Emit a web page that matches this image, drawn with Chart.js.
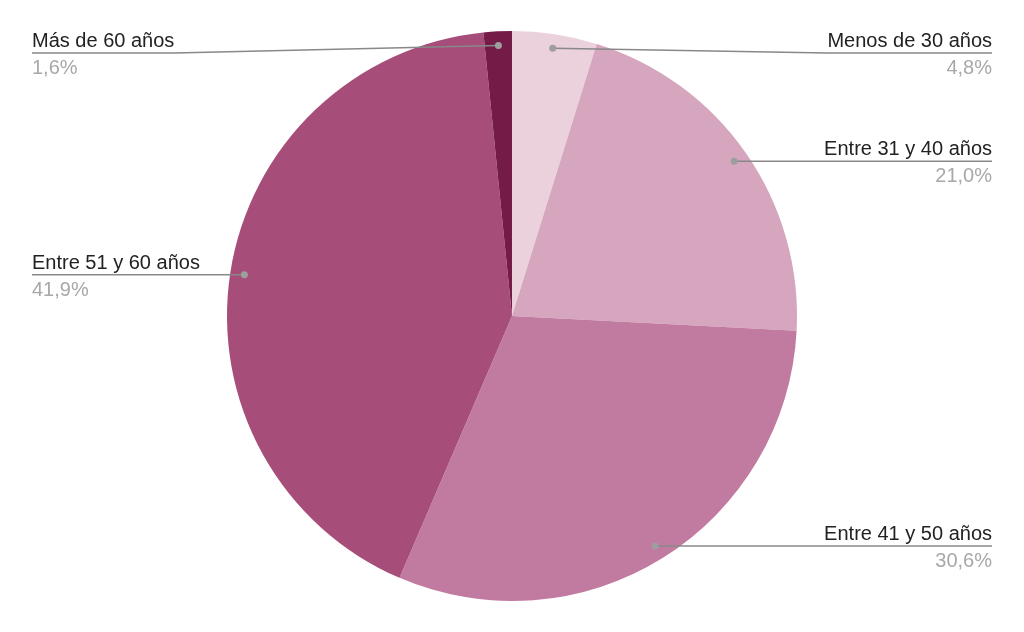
<!DOCTYPE html>
<html>
<head>
<meta charset="utf-8">
<script src="https://cdn.jsdelivr.net/npm/chart.js@4/dist/chart.umd.min.js"></script>
<style>
  html, body { margin: 0; padding: 0; background: #fff; }
  #wrap { width: 1024px; height: 632px; position: relative; }
</style>
</head>
<body>
<div id="wrap"><canvas id="myPie"></canvas></div>
<script>
// data
const labels = ['Menos de 30 años', 'Entre 31 y 40 años', 'Entre 41 y 50 años', 'Entre 51 y 60 años', 'Más de 60 años'];
const values = [4.8, 21.0, 30.6, 41.9, 1.6];
const percentLabels = ['4,8%', '21,0%', '30,6%', '41,9%', '1,6%'];
const colors = ['#ead1dc', '#d5a6bd', '#c27ba0', '#a64d79', '#741b47'];

// leader lines + labels
const calloutPlugin = {
  id: 'callouts',
  afterDraw(chart) {
    const ctx = chart.ctx;
    const meta = chart.getDatasetMeta(0);
    ctx.save();
    ctx.font = '20px "Liberation Sans", Arial, sans-serif';
    meta.data.forEach((arc, i) => {
      const p = arc.getProps(['x', 'y', 'startAngle', 'endAngle', 'outerRadius'], true);
      const mid = (p.startAngle + p.endAngle) / 2;
      const r = p.outerRadius * 0.95;
      const dx = p.x + Math.cos(mid) * r;
      const dy = p.y + Math.sin(mid) * r;
      const right = Math.cos(mid) >= 0;
      const lineY = Math.max(dy, 53);
      const tw = ctx.measureText(labels[i]).width;
      const edge = right ? 992 : 32;
      const bend = right ? edge - tw : edge + tw;

      ctx.strokeStyle = '#888888';
      ctx.lineWidth = 1.5;
      ctx.beginPath();
      ctx.moveTo(dx, dy);
      ctx.lineTo(bend, lineY);
      ctx.lineTo(edge, lineY);
      ctx.stroke();

      ctx.fillStyle = '#9e9e9e';
      ctx.beginPath();
      ctx.arc(dx, dy, 3.5, 0, Math.PI * 2);
      ctx.fill();

      ctx.textAlign = right ? 'right' : 'left';
      ctx.textBaseline = 'alphabetic';
      ctx.fillStyle = '#222222';
      ctx.fillText(labels[i], edge, lineY - 6);
      ctx.fillStyle = '#a8a8a8';
      ctx.fillText(percentLabels[i], edge, lineY + 21);
    });
    ctx.restore();
  }
};

const config = {
  type: 'pie',
  data: {
    labels: labels,
    datasets: [{
      data: values,
      backgroundColor: colors,
      borderWidth: 0
    }]
  },
  options: {
    responsive: false,
    animation: false,
    layout: { padding: { top: 31, bottom: 31 } },
    plugins: {
      legend: { display: false },
      tooltip: { enabled: false }
    }
  },
  plugins: [calloutPlugin]
};

const canvas = document.getElementById('myPie');
canvas.width = 1024;
canvas.height = 632;
const myPie = new Chart(canvas, config);
</script>
</body>
</html>
